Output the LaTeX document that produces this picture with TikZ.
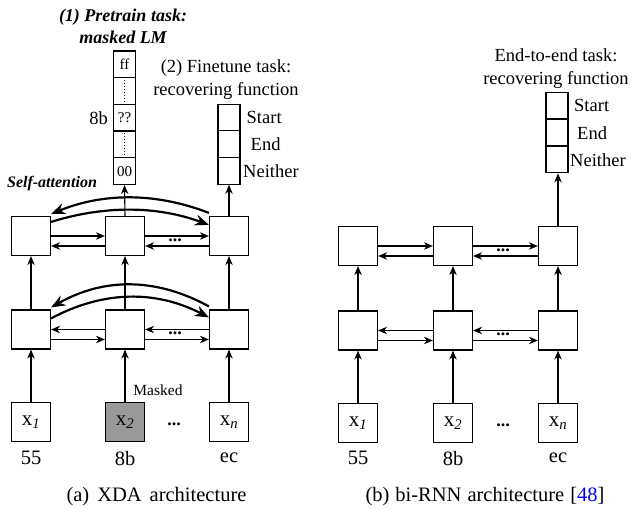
\documentclass[tikz,border=0pt]{standalone}
\usepackage{fontspec}
\setmainfont{Liberation Serif}
\usetikzlibrary{arrows.meta}
\definecolor{maskgray}{RGB}{153,153,153}
\definecolor{citeblue}{RGB}{0,0,238}
\begin{document}
\begin{tikzpicture}[x=1pt,y=-1pt,
  box/.style={draw,line width=1.2pt,minimum width=39pt,minimum height=39pt,inner sep=0pt,font=\fontsize{21}{23}\selectfont},
  cell/.style={draw,line width=1.2pt,minimum width=22pt,minimum height=26.7pt,inner sep=0pt,font=\fontsize{15}{17}\selectfont},
  arr/.style={line width=1.1pt,-{Stealth[length=9pt,width=7.5pt]}},
  attn/.style={line width=2.2pt,-{Stealth[length=14pt,width=11pt]}},
  lbl/.style={font=\fontsize{18.5}{22}\selectfont,inner sep=0pt},
  num/.style={font=\fontsize{20.5}{22}\selectfont,inner sep=0pt},
  captxt/.style={font=\fontsize{20.5}{22}\selectfont,inner sep=0pt},
  small/.style={font=\fontsize{15.5}{18}\selectfont,inner sep=0pt},
  title/.style={font=\fontsize{18}{22}\selectfont\bfseries\itshape,inner sep=0pt,align=center},
  ttl/.style={font=\fontsize{18.5}{23}\selectfont,inner sep=0pt,align=center},
  dots/.style={font=\fontsize{18}{18}\selectfont\bfseries,inner sep=0pt,anchor=base},
  dotline/.style={dotted,line width=1pt}
]
\useasboundingbox (0,0) rectangle (632,510);

% ---------------- left panel ----------------
\node[box] (a1) at (31,236) {};
\node[box] (a2) at (125,236) {};
\node[box] (a3) at (229,236) {};
\node[box] (b1) at (31,329.5) {};
\node[box] (b2) at (125,329.5) {};
\node[box] (b3) at (229,329.5) {};
\node[box] (i1) at (31,422) {x\textsubscript{\textit{1}}};
\node[box,fill=maskgray] (i2) at (125,422) {x\textsubscript{\textit{2}}};
\node[box] (i3) at (229,422) {x\textsubscript{\textit{n}}};
\node[num] (n1) at (31,458) {55};
\node[num] (n2) at (125,458) {8b};
\node[num] (n3) at (229,458) {ec};
\node[small] (mk) at (158,390) {Masked};
\node[dots] (id) at (174,426) {...};

% pretrain column
\node[cell] (p1) at (124.5,64.3) {ff};
\node[cell] (p2) at (124.5,91) {};
\node[cell] (p3) at (124.5,117.7) {??};
\node[cell] (p4) at (124.5,144.4) {};
\node[cell] (p5) at (124.5,171.1) {00};
\draw[dotline] ([yshift=-3pt]p2.north) -- ([yshift=3pt]p2.south);
\draw[dotline] ([yshift=-3pt]p4.north) -- ([yshift=3pt]p4.south);
\node[lbl,anchor=east] (eb) at (108,118) {8b};
\node[title] (t1) at (123,26) {(1) Pretrain task:\\masked LM};

% finetune column
\node[cell] (f1) at (229,117.5) {};
\node[cell] (f2) at (229,144.2) {};
\node[cell] (f3) at (229,170.9) {};
\node[lbl,anchor=west] (fs) at (246.5,117) {Start};
\node[lbl,anchor=west] (fe) at (250.5,144) {End};
\node[lbl,anchor=west] (fn) at (243,171) {Neither};
\node[ttl] (t2) at (226,79.5) {(2) Finetune task:\\recovering function};

\node[font=\fontsize{16}{18}\selectfont\bfseries\itshape,inner sep=0pt] (sa) at (52,184) {Self-attention};

% vertical arrows
\draw[arr] (i1.north) -- (b1.south);
\draw[arr] (i2.north) -- (b2.south);
\draw[arr] (i3.north) -- (b3.south);
\draw[arr] (b1.north) -- (a1.south);
\draw[arr] (b2.north) -- (a2.south);
\draw[arr] (b3.north) -- (a3.south);
\draw[arr] (a2.north) -- (p5.south);
\draw[arr] (a3.north) -- (f3.south);

% horizontal arrows upper row
\draw[arr] (a1.east) -- (a2.west);
\draw[arr] ([yshift=-10pt]a2.west) -- ([yshift=-10pt]a1.east);
\draw[arr] (a2.east) -- (a3.west);
\draw[arr] ([yshift=-10pt]a3.west) -- ([yshift=-10pt]a2.east);
\node[dots] (ad) at (175,241.5) {...};
% lower row
\draw[arr] (b2.west) -- (b1.east);
\draw[arr] ([yshift=-10pt]b1.east) -- ([yshift=-10pt]b2.west);
\draw[arr] (b3.west) -- (b2.east);
\draw[arr] ([yshift=-10pt]b2.east) -- ([yshift=-10pt]b3.west);
\node[dots] (bd) at (175,335) {...};

% self-attention arcs
\draw[attn] ([yshift=3pt]a3.north west) .. controls (156,192.5) and (104,192.5) .. ([yshift=2pt]a1.north east);
\draw[attn] ([yshift=-6pt]a1.north east) .. controls (104,205.5) and (156,205.5) .. ([yshift=-9pt]a3.north west);
\draw[attn] ([yshift=3pt]b3.north west) .. controls (156,277.5) and (104,277.5) .. ([yshift=2pt]b1.north east);
\draw[attn] ([yshift=-9pt]b1.north east) .. controls (104,290.2) and (156,290.2) .. ([yshift=-8pt]b3.north west);

\node[captxt] (ca) at (156.5,497) {(a)\hspace{8pt}XDA\hspace{8pt}architecture};

% ---------------- right panel ----------------
\node[box] (c1) at (358,246) {};
\node[box] (c2) at (453,246) {};
\node[box] (c3) at (558,246) {};
\node[box] (d1) at (358,330.5) {};
\node[box] (d2) at (453,330.5) {};
\node[box] (d3) at (558,330.5) {};
\node[box] (j1) at (358,423) {x\textsubscript{\textit{1}}};
\node[box] (j2) at (453,423) {x\textsubscript{\textit{2}}};
\node[box] (j3) at (558,423) {x\textsubscript{\textit{n}}};
\node[num] (m1) at (358,458) {55};
\node[num] (m2) at (453,458) {8b};
\node[num] (m3) at (558,458) {ec};
\node[dots] (jd) at (503,427) {...};

\node[cell] (g1) at (557,105.5) {};
\node[cell] (g2) at (557,132.5) {};
\node[cell] (g3) at (557,159.5) {};
\node[lbl,anchor=west] (gs) at (574,105) {Start};
\node[lbl,anchor=west] (ge) at (577,133) {End};
\node[lbl,anchor=west] (gn) at (570,160) {Neither};
\node[ttl] (t3) at (556,69) {End-to-end task:\\recovering function};

\draw[arr] (j1.north) -- (d1.south);
\draw[arr] (j2.north) -- (d2.south);
\draw[arr] (j3.north) -- (d3.south);
\draw[arr] (d1.north) -- (c1.south);
\draw[arr] (d2.north) -- (c2.south);
\draw[arr] (d3.north) -- (c3.south);
\draw[arr] (c3.north) -- (g3.south -| c3.north);

\draw[arr] (c1.east) -- (c2.west);
\draw[arr] ([yshift=-10pt]c2.west) -- ([yshift=-10pt]c1.east);
\draw[arr] (c2.east) -- (c3.west);
\draw[arr] ([yshift=-10pt]c3.west) -- ([yshift=-10pt]c2.east);
\node[dots] (cd) at (503,251.5) {...};
\draw[arr] (d2.west) -- (d1.east);
\draw[arr] ([yshift=-10pt]d1.east) -- ([yshift=-10pt]d2.west);
\draw[arr] (d3.west) -- (d2.east);
\draw[arr] ([yshift=-10pt]d2.east) -- ([yshift=-10pt]d3.west);
\node[dots] (dd) at (503,336) {...};

\node[captxt] (cb) at (485,497) {(b)\hspace{6pt}bi-RNN\hspace{6pt}architecture\hspace{6pt}[\textcolor{citeblue}{48}]};
\end{tikzpicture}
\end{document}
